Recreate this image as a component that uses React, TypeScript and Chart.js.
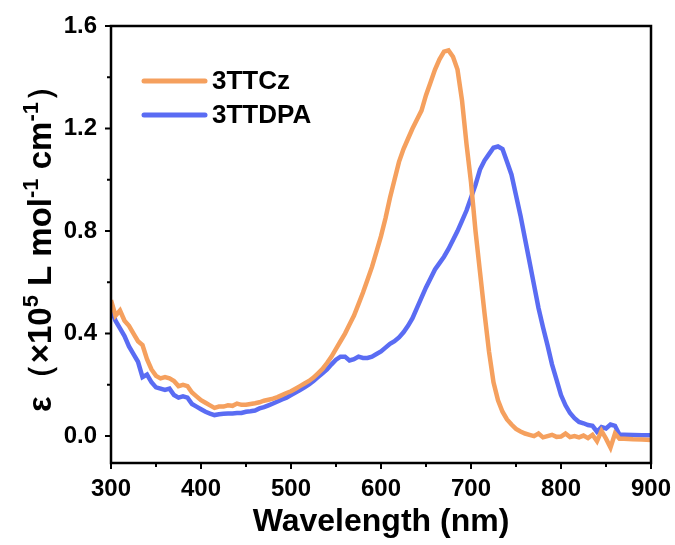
import React, { useEffect, useRef } from "react";
import { Chart, registerables } from "chart.js";

Chart.register(...registerables);

const wavelengths = [
  300, 305, 310, 315, 320, 325, 330, 335, 340, 345,
  350, 355, 360, 365, 370, 375, 380, 385, 390, 395,
  400, 405, 410, 415, 420, 425, 430, 435, 440, 445,
  450, 455, 460, 465, 470, 475, 480, 485, 490, 495,
  500, 505, 510, 515, 520, 525, 530, 535, 540, 545,
  550, 555, 560, 565, 570, 575, 580, 585, 590, 595,
  600, 605, 610, 615, 620, 625, 630, 635, 640, 645,
  650, 655, 660, 665, 670, 675, 680, 685, 690, 695,
  700, 705, 710, 715, 720, 725, 730, 735, 740, 745,
  750, 755, 760, 765, 770, 775, 780, 785, 790, 795,
  800, 805, 810, 815, 820, 825, 830, 835, 840, 845,
  850, 855, 860, 865, 870, 880, 890, 900,
];

const tTCz = [
  0.53, 0.47, 0.49, 0.45, 0.43, 0.40, 0.37, 0.355, 0.30, 0.26,
  0.235, 0.225, 0.23, 0.225, 0.215, 0.195, 0.20, 0.195, 0.17, 0.155,
  0.14, 0.13, 0.12, 0.11, 0.115, 0.115, 0.12, 0.118, 0.127, 0.122,
  0.122, 0.125, 0.128, 0.132, 0.138, 0.142, 0.146, 0.152, 0.16, 0.168,
  0.175, 0.185, 0.195, 0.205, 0.215, 0.228, 0.245, 0.262, 0.285, 0.31,
  0.34, 0.37, 0.40, 0.435, 0.47, 0.515, 0.56, 0.61, 0.66, 0.72,
  0.78, 0.85, 0.93, 1.00, 1.07, 1.12, 1.16, 1.20, 1.235, 1.27,
  1.33, 1.38, 1.43, 1.47, 1.50, 1.505, 1.48, 1.43, 1.31, 1.14,
  0.99, 0.80, 0.64, 0.48, 0.33, 0.21, 0.14, 0.095, 0.065, 0.045,
  0.028, 0.018, 0.01, 0.005, 0.0, 0.01, -0.005, 0.0, 0.005, -0.003,
  -0.002, 0.01, -0.004, 0.0, -0.005, 0.002, -0.008, 0.005, -0.02, 0.02,
  -0.01, -0.045, 0.01, -0.01, -0.01, -0.012, -0.013, -0.015,
];

const tTDPA = [
  0.50, 0.45, 0.42, 0.39, 0.35, 0.32, 0.29, 0.23, 0.24, 0.21,
  0.19, 0.185, 0.18, 0.185, 0.16, 0.15, 0.155, 0.15, 0.125, 0.115,
  0.105, 0.095, 0.088, 0.082, 0.085, 0.087, 0.088, 0.088, 0.09, 0.09,
  0.095, 0.097, 0.10, 0.108, 0.113, 0.12, 0.127, 0.135, 0.143, 0.15,
  0.16, 0.17, 0.18, 0.19, 0.202, 0.215, 0.23, 0.245, 0.26, 0.28,
  0.298, 0.31, 0.31, 0.295, 0.30, 0.31, 0.305, 0.305, 0.31, 0.32,
  0.33, 0.345, 0.36, 0.37, 0.385, 0.405, 0.43, 0.46, 0.50, 0.54,
  0.58, 0.615, 0.65, 0.675, 0.70, 0.73, 0.765, 0.80, 0.84, 0.88,
  0.93, 0.98, 1.04, 1.075, 1.10, 1.125, 1.13, 1.12, 1.07, 1.02,
  0.94, 0.86, 0.77, 0.68, 0.59, 0.50, 0.425, 0.355, 0.28, 0.22,
  0.16, 0.12, 0.09, 0.07, 0.055, 0.05, 0.043, 0.04, 0.017, 0.035,
  0.03, 0.045, 0.04, 0.005, 0.005, 0.004, 0.003, 0.003,
];

const seriesNames = ["3TTCz", "3TTDPA"];
const seriesColors = ["#F5A05E", "#5A6CF3"];
const xTicks = [300, 400, 500, 600, 700, 800, 900];
const xMinorTicks = [350, 450, 550, 650, 750, 850];
const yTicks = [0.0, 0.4, 0.8, 1.2, 1.6];
const yMinorTicks = [0.2, 0.6, 1.0, 1.4];
const xTitle = "Wavelength (nm)";

const FONT = "'Liberation Sans', Arial, Helvetica, sans-serif";

const decorPlugin = {
  id: "decor",
  afterDraw(chart: any) {
    const ctx = chart.ctx;
    const { left, right, top, bottom } = chart.chartArea;
    const xs = chart.scales.x;
    const ys = chart.scales.y;
    ctx.save();
    // frame
    ctx.strokeStyle = "#000";
    ctx.lineWidth = 2.5;
    ctx.strokeRect(left, top, right - left, bottom - top);
    // ticks
    ctx.lineWidth = 2;
    ctx.beginPath();
    xTicks.forEach((v) => {
      const p = xs.getPixelForValue(v);
      ctx.moveTo(p, bottom);
      ctx.lineTo(p, bottom + 6);
    });
    xMinorTicks.forEach((v) => {
      const p = xs.getPixelForValue(v);
      ctx.moveTo(p, bottom);
      ctx.lineTo(p, bottom + 4);
    });
    yTicks.forEach((v) => {
      const p = ys.getPixelForValue(v);
      ctx.moveTo(left, p);
      ctx.lineTo(left - 6, p);
    });
    yMinorTicks.forEach((v) => {
      const p = ys.getPixelForValue(v);
      ctx.moveTo(left, p);
      ctx.lineTo(left - 4, p);
    });
    ctx.stroke();

    // legend
    const legendY = [81, 115];
    seriesNames.forEach((name, i) => {
      ctx.strokeStyle = seriesColors[i];
      ctx.lineWidth = 5;
      ctx.lineCap = "round";
      ctx.beginPath();
      ctx.moveTo(144, legendY[i]);
      ctx.lineTo(205, legendY[i]);
      ctx.stroke();
      ctx.fillStyle = "#000";
      ctx.font = `bold 26px ${FONT}`;
      ctx.textAlign = "left";
      ctx.textBaseline = "middle";
      ctx.fillText(name, 212, legendY[i] + 1);
    });

    // y title with superscripts
    const segs: [string, boolean][] = [
      ["ε", false],
      ["（", false],
      ["×10", false],
      ["5", true],
      [" L mol", false],
      ["-1", true],
      [" cm", false],
      ["-1", true],
      ["）", false],
    ];
    const mainFont = `bold 33px ${FONT}`;
    const supFont = `bold 22px ${FONT}`;
    ctx.translate(51, 412);
    ctx.rotate(-Math.PI / 2);
    ctx.textAlign = "left";
    ctx.textBaseline = "alphabetic";
    ctx.fillStyle = "#000";
    let x = 0;
    segs.forEach(([t, sup]) => {
      ctx.font = sup ? supFont : mainFont;
      ctx.fillText(t, x, sup ? -13 : 0);
      x += ctx.measureText(t).width;
    });
    ctx.restore();
  },
};

export default function App() {
  const ref = useRef<HTMLCanvasElement | null>(null);
  useEffect(() => {
    if (!ref.current) return;
    const chart = new Chart(ref.current, {
      type: "line",
      data: {
        labels: wavelengths,
        datasets: [
          {
            label: seriesNames[0],
            data: wavelengths.map((w, i) => ({ x: w, y: tTCz[i] })),
            borderColor: seriesColors[0],
            borderWidth: 4.5,
            pointRadius: 0,
            tension: 0,
            fill: false,
          },
          {
            label: seriesNames[1],
            data: wavelengths.map((w, i) => ({ x: w, y: tTDPA[i] })),
            borderColor: seriesColors[1],
            borderWidth: 4.5,
            pointRadius: 0,
            tension: 0,
            fill: false,
          },
        ],
      },
      options: {
        responsive: false,
        animation: false,
        layout: { padding: { left: 0, right: 24, top: 26, bottom: 0 } },
        plugins: {
          legend: { display: false },
          tooltip: { enabled: false },
          title: { display: false },
        },
        scales: {
          x: {
            type: "linear",
            min: 300,
            max: 900,
            grid: { display: false, drawTicks: false },
            border: { display: false },
            afterBuildTicks: (s: any) => {
              s.ticks = xTicks.map((v) => ({ value: v }));
            },
            afterFit: (s: any) => {
              s.height = 82;
              s.paddingLeft = 0;
              s.paddingRight = 0;
            },
            ticks: {
              padding: 12,
              color: "#000",
              maxRotation: 0,
              font: { family: FONT, size: 24, weight: "bold" },
              callback: (v: any) => String(v),
            },
            title: {
              display: true,
              text: xTitle,
              color: "#000",
              font: { family: FONT, size: 32, weight: "bold" },
              padding: { top: 0, bottom: 4 },
            },
          },
          y: {
            type: "linear",
            min: -0.105,
            max: 1.6,
            grid: { display: false, drawTicks: false },
            border: { display: false },
            afterBuildTicks: (s: any) => {
              s.ticks = yTicks.map((v) => ({ value: v }));
            },
            afterFit: (s: any) => {
              s.width = 111;
              s.paddingTop = 0;
              s.paddingBottom = 0;
            },
            ticks: {
              padding: 14,
              color: "#000",
              font: { family: FONT, size: 24, weight: "bold" },
              callback: (v: any) => Number(v).toFixed(1),
            },
          },
        },
      },
      plugins: [decorPlugin],
    });
    return () => chart.destroy();
  }, []);
  return (
    <div style={{ position: "fixed", left: 0, top: 0, width: 675, height: 545, background: "#fff" }}>
      <canvas ref={ref} width={675} height={545} style={{ width: 675, height: 545 }} />
    </div>
  );
}
